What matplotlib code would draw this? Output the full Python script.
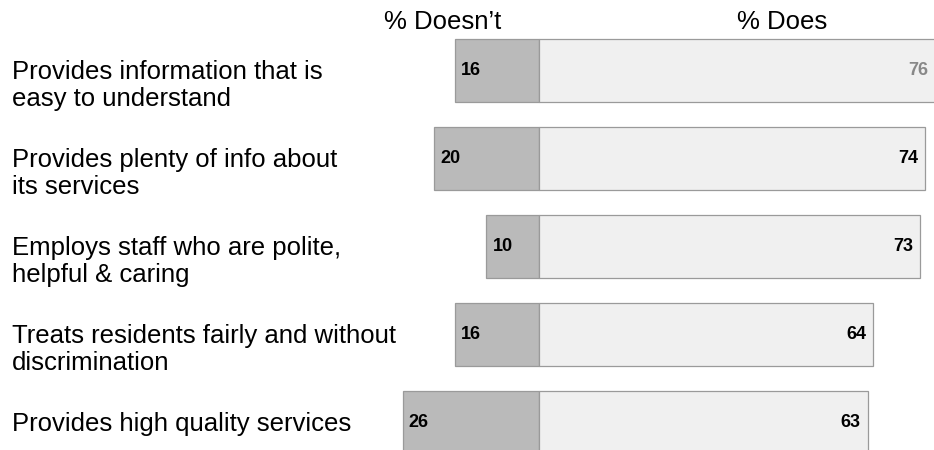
import matplotlib
matplotlib.use("Agg")
import matplotlib.pyplot as plt
import matplotlib.transforms as mtransforms

plt.rcParams['font.family'] = ['Liberation Sans', 'DejaVu Sans']

# Survey statements, top to bottom
categories = [
    "Provides information that is\neasy to understand",
    "Provides plenty of info about\nits services",
    "Employs staff who are polite,\nhelpful & caring",
    "Treats residents fairly and without\ndiscrimination",
    "Provides high quality services",
]
doesnt = [16, 20, 10, 16, 26]
does = [76, 74, 73, 64, 63]
does_label_colors = ["#888888", "black", "black", "black", "black"]
headers = ["% Doesn\u2019t", "% Does"]

W, H, DPI = 934, 450, 100
zero_px = 538.7      # pixel x of the 0 line
px_per_unit = 5.225  # pixels per percentage point
row0_px = 70.7       # pixel y of first bar centre
row_step = 88.0      # pixels between bars
line_step = 27.5     # pixels between lines of a statement

fig = plt.figure(figsize=(W / DPI, H / DPI), dpi=DPI)
ax = fig.add_axes([0, 0, 1, 1])
ax.set_xlim(-zero_px / px_per_unit, (W - zero_px) / px_per_unit)
ax.set_ylim((H - row0_px) / row_step, -row0_px / row_step)
ax.axis("off")

rows = list(range(len(categories)))
bar_h = 62.7 / row_step
edge = "#9a9a9a"

ax.barh(rows, [-v for v in doesnt], height=bar_h, color="#bababa",
        edgecolor=edge, linewidth=0.9)
ax.barh(rows, does, height=bar_h, color="#f0f0f0",
        edgecolor=edge, linewidth=0.9)

pad = 6 / px_per_unit
for i, (n, y, c) in enumerate(zip(doesnt, does, does_label_colors)):
    ax.text(-n + pad, i, str(n), ha="left", va="center",
            fontsize=13, fontweight="bold", color="black")
    ax.text(y - pad * 1.2, i, str(y), ha="right", va="center",
            fontsize=13, fontweight="bold", color=c)

# statement labels: first line level with the bar centre, the rest below it
label_tf = mtransforms.blended_transform_factory(ax.transAxes, ax.transData)
for i, cat in enumerate(categories):
    for k, line in enumerate(cat.split("\n")):
        tf = label_tf + mtransforms.ScaledTranslation(
            0, -(8 + k * line_step) / DPI, fig.dpi_scale_trans)
        ax.text(12 / W, i, line, transform=tf, ha="left", va="baseline",
                fontsize=18.5)

# column headers
head_tf = mtransforms.blended_transform_factory(ax.transData, fig.transFigure)
for name, cx in zip(headers, [443, 782.5]):
    ax.text((cx - zero_px) / px_per_unit, 1 - 22 / H, name, transform=head_tf,
            ha="center", va="center", fontsize=18.5)

fig.savefig("out.png", dpi=DPI)
